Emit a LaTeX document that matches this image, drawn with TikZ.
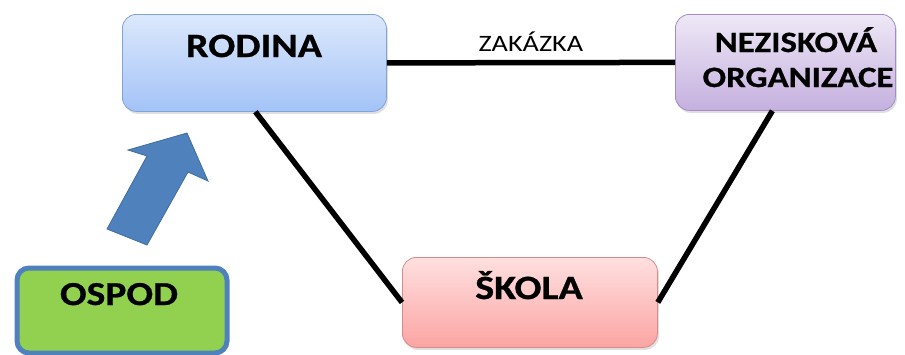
\documentclass[tikz,border=0pt]{standalone}
\usepackage{fontspec}
\setmainfont{Carlito}
\newfontfamily\boxfont[FakeStretch=1.2]{Carlito}
\newfontfamily\titlefont[FakeStretch=1.18,FakeBold=0.7]{Carlito Bold}
\usetikzlibrary{shadows}
\definecolor{rodTop}{HTML}{DCE8FC}
\definecolor{rodBot}{HTML}{A3C3F7}
\definecolor{rodLine}{HTML}{7FA4D9}
\definecolor{nezTop}{HTML}{EEE8F6}
\definecolor{nezBot}{HTML}{C5B0DF}
\definecolor{nezLine}{HTML}{A48BC4}
\definecolor{skTop}{HTML}{FFE0E0}
\definecolor{skBot}{HTML}{FBA4A3}
\definecolor{skLine}{HTML}{D98B8B}
\definecolor{ospFill}{HTML}{92D050}
\definecolor{ospLine}{HTML}{4F81BD}
\definecolor{arrFill}{HTML}{4F81BD}
\definecolor{arrLine}{HTML}{3E6C9E}
\begin{document}
\begin{tikzpicture}[x=1pt,y=-1pt,
  box/.style={rounded corners=14pt, line width=0.8pt, inner sep=0pt,
    anchor=north west, drop shadow={opacity=0.25, shadow xshift=1.5pt, shadow yshift=-2.5pt}},
  title/.style={anchor=base, inner sep=0pt, font=\titlefont\fontsize{34}{40}\selectfont},
  small/.style={anchor=base, inner sep=0pt, font=\titlefont\fontsize{29.5}{34}\selectfont},
  link/.style={line width=5.5pt, black},
  lbl/.style={anchor=base, inner sep=0pt, font=\boxfont\fontsize{23.5}{28}\selectfont}]
\useasboundingbox (0,0) rectangle (905,354);
% boxes
\node[box, draw=rodLine, top color=rodTop, bottom color=rodBot,
  minimum width=264pt, minimum height=97pt] (rodina) at (122,14) {};
\node[box, draw=nezLine, top color=nezTop, bottom color=nezBot,
  minimum width=220pt, minimum height=96pt] (nez) at (675,14) {};
\node[box, draw=skLine, top color=skTop, bottom color=skBot,
  minimum width=255pt, minimum height=90pt] (skola) at (402,257) {};
\node[draw=ospLine, fill=ospFill, line width=5pt, rounded corners=12pt, inner sep=0pt,
  anchor=north west, minimum width=210pt, minimum height=85pt] (ospod) at (14.5,265.5) {};
% texts
\node[title] (rodinaT) at (254,57) {RODINA};
\node[small] (nezT1) at (796,52) {NEZISKOVÁ};
\node[small] (nezT2) at (798,87) {ORGANIZACE};
\node[title] (skolaT) at (529,299) {ŠKOLA};
\node[title, font=\titlefont\fontsize{33.5}{38}\selectfont] (ospodT) at (119,305) {OSPOD};
% connectors
\draw[link] (rodina.east) -- node[lbl, above=8pt] (zak) {ZAKÁZKA} (nez.west);
\draw[link] ([xshift=1pt]rodina.south) -- (skola.west);
\draw[link] ([xshift=-13pt]nez.south) -- (skola.east);
% block arrow
\draw[fill=arrFill, draw=arrLine, line width=0.8pt, line join=miter]
  (107,229) -- (147,156) -- (128,150) -- (187,133) -- (208,181) -- (188,172) -- (147,245) -- cycle;
\end{tikzpicture}
\end{document}
